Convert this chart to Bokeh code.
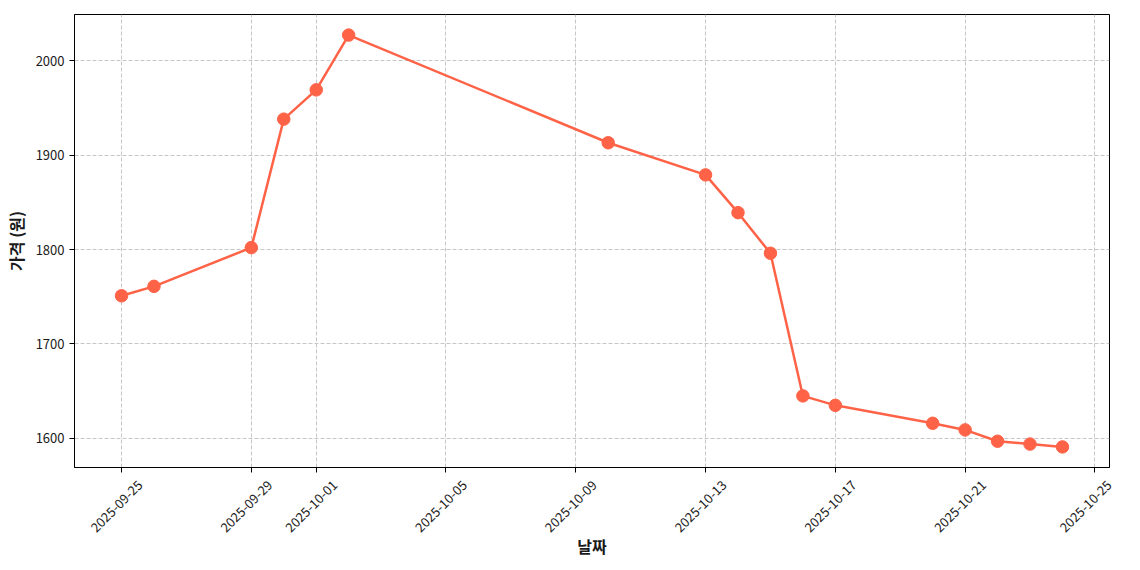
import math
from datetime import datetime
from bokeh.plotting import figure
from bokeh.models import FixedTicker, Range1d, DatetimeTickFormatter, ColumnDataSource, DatetimeAxis
from bokeh.embed import file_html
from bokeh.resources import INLINE

# ---- data ----
dates = ["2025-09-25", "2025-09-26", "2025-09-29", "2025-09-30", "2025-10-01", "2025-10-02",
         "2025-10-10", "2025-10-13", "2025-10-14", "2025-10-15", "2025-10-16", "2025-10-17",
         "2025-10-20", "2025-10-21", "2025-10-22", "2025-10-23", "2025-10-24"]
prices = [1751, 1761, 1802, 1938, 1969, 2027,
          1913, 1879, 1839, 1796, 1645, 1635,
          1616, 1609, 1597, 1594, 1591]
x_tick_labels = ["2025-09-25", "2025-09-29", "2025-10-01", "2025-10-05", "2025-10-09",
                 "2025-10-13", "2025-10-17", "2025-10-21", "2025-10-25"]
y_ticks = [1600, 1700, 1800, 1900, 2000]
x_title = "날짜"
y_title = "가격 (원)"

FONT = "Noto Sans CJK KR"
COLOR = "#FF6347"
TXT = "#1a1a1a"
DAY_MS = 86400000.0
LABEL_SHIFT_DAYS = 0.57  # centres rotated labels on their ticks (matplotlib style)


def ms(s):
    return datetime.strptime(s, "%Y-%m-%d").timestamp() * 1000.0


xs = [datetime.strptime(d, "%Y-%m-%d") for d in dates]
src = ColumnDataSource(dict(x=xs, y=prices))

# matplotlib-like 5% margins
xmin, xmax = ms(dates[0]), ms(dates[-1])
xpad = (xmax - xmin) * 0.05
x_start, x_end = xmin - xpad, xmax + xpad
ymin, ymax = min(prices), max(prices)
ypad = (ymax - ymin) * 0.05
y0 = ymin - ypad

p = figure(width=1132, height=568, x_axis_type="datetime",
           output_backend="svg", toolbar_location=None,
           x_range=Range1d(x_start, x_end),
           y_range=Range1d(y0, ymax + ypad),
           min_border_left=74, min_border_right=23, min_border_top=14, min_border_bottom=101)
p.background_fill_color = "white"
p.border_fill_color = "white"
p.outline_line_color = "black"
p.outline_line_width = 1
p.outline_line_alpha = 1.0

p.line("x", "y", source=src, line_color=COLOR, line_width=2.5)
p.scatter("x", "y", source=src, size=12.5, fill_color=COLOR, line_color=COLOR)

tick_ms = [ms(t) for t in x_tick_labels]
p.xaxis.ticker = FixedTicker(ticks=tick_ms)
p.yaxis.ticker = FixedTicker(ticks=y_ticks)
p.xgrid.ticker = FixedTicker(ticks=tick_ms)

for ax in (p.xaxis, p.yaxis):
    ax.axis_line_color = "black"
    ax.axis_line_width = 1
    ax.major_tick_line_color = "black"
    ax.major_tick_out = 5
    ax.major_tick_in = 0
    ax.minor_tick_line_color = None
    ax.major_label_text_font = FONT
    ax.major_label_text_font_size = "13px"
    ax.major_label_text_color = TXT
    ax.axis_label_text_font = FONT
    ax.axis_label_text_font_size = "16px"
    ax.axis_label_text_font_style = "bold"
    ax.axis_label_text_color = TXT

# main x axis: tick marks only
p.xaxis.major_label_text_alpha = 0

# label axis: rotated date labels + title (label anchors nudged so text sits centred on ticks)
lab_ticks = [min(t + LABEL_SHIFT_DAYS * DAY_MS, x_end - 0.01 * DAY_MS) for t in tick_ms]
lab_ax = DatetimeAxis(ticker=FixedTicker(ticks=lab_ticks),
                      formatter=DatetimeTickFormatter(days="%Y-%m-%d", months="%Y-%m-%d",
                                                      hours="%Y-%m-%d", minutes="%Y-%m-%d",
                                                      seconds="%Y-%m-%d"),
                      major_label_orientation=math.pi / 4,
                      axis_line_color=None, major_tick_line_color=None, minor_tick_line_color=None,
                      major_tick_out=0, major_tick_in=0, major_label_standoff=10,
                      major_label_text_font=FONT, major_label_text_font_size="13px",
                      major_label_text_color=TXT,
                      axis_label=x_title, axis_label_text_font=FONT, axis_label_text_font_size="16px",
                      axis_label_text_font_style="bold", axis_label_text_color=TXT,
                      axis_label_standoff=-6)
p.add_layout(lab_ax, "below")

p.yaxis.axis_label = y_title
p.yaxis.major_label_standoff = 5
p.yaxis.axis_label_standoff = 5

for g in (p.xgrid, p.ygrid):
    g.grid_line_color = "#c6c6c6"
    g.grid_line_dash = "4 2"
    g.grid_line_width = 1

open("out.html", "w").write(file_html(p, INLINE))
